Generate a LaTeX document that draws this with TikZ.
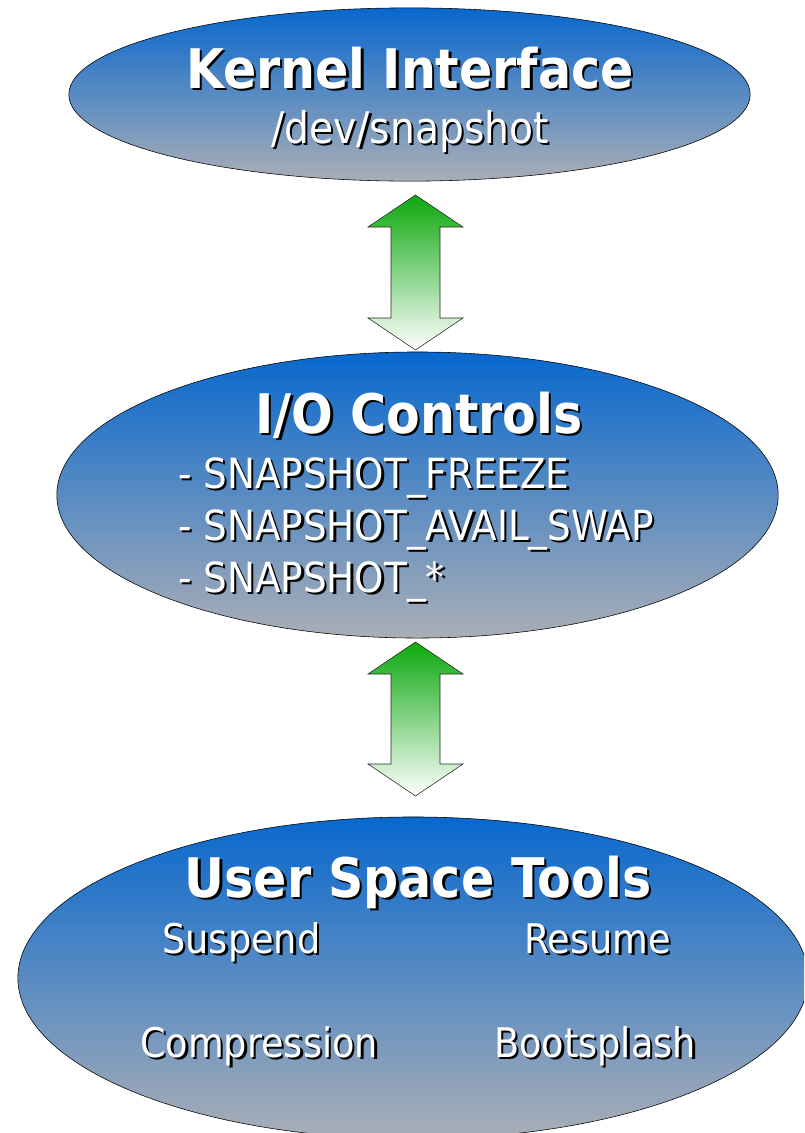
\documentclass[tikz,border=0pt]{standalone}
\usepackage{fontspec}
\setmainfont{DejaVu Sans Condensed}
\usetikzlibrary{calc}
\usetikzlibrary{shapes.geometric}
\definecolor{blobtop}{RGB}{8,104,206}
\definecolor{blobbottom}{RGB}{170,174,182}
\definecolor{arrowgreen}{RGB}{12,168,12}
\newcommand{\shadowed}[1]{\rlap{\kern1.7pt\raisebox{-1.7pt}{\color{black}#1}}#1}
\newcommand{\blockarrow}[2]{%
    \draw[bigarrow] (#1) -- ++(47.5,32) -- ++(-23,0) -- ($(#2)+(24.5,-32)$) -- ++(23,0)
        -- (#2) -- ++(-47.5,-32) -- ++(23,0) -- ($(#1)+(-24.5,32)$) -- ++(-23,0) -- cycle;}

\begin{document}
\begin{tikzpicture}[x=0.025cm, y=-0.025cm,
    blob/.style={ellipse, draw=black, thin, top color=blobtop, bottom color=blobbottom, inner sep=0pt},
    bigarrow/.style={draw=black!85, thin, top color=arrowgreen, bottom color=white},
    title/.style={white, font=\bfseries\fontsize{38.8}{40}\selectfont, anchor=base, inner sep=0pt},
    subtext/.style={white, font=\fontsize{29.5}{30}\selectfont, anchor=base, inner sep=0pt}]

    \useasboundingbox (0,0) rectangle (804,1133);
    \clip (0,0) rectangle (804,1133);

    % the three layers
    \node[blob, minimum width=17.03cm, minimum height=4.33cm] (kernel) at (409.5,94.5) {};
    \node[blob, minimum width=18.03cm, minimum height=7.15cm] (ioctl) at (417.5,495) {};
    \node[blob, minimum width=19.75cm, minimum height=8.05cm] (tools) at (413,978) {};

    % arrows in between
    \coordinate (up1) at (415.5,195);
    \coordinate (down1) at (415.5,350);
    \coordinate (up2) at (415.5,642);
    \coordinate (down2) at (415.5,796);
    \blockarrow{up1}{down1}
    \blockarrow{up2}{down2}

    \node[title] (kerneltitle) at (410,88) {\shadowed{Kernel Interface}};
    \node[subtext, font=\fontsize{31}{32}\selectfont] (devnode) at (410,143) {\shadowed{/dev/snapshot}};

    \node[title] (ioctltitle) at (419,433) {\shadowed{I/O Controls}};
    \node[subtext, anchor=base west] (freeze) at (178,488) {\shadowed{- SNAPSHOT\_FREEZE}};
    \node[subtext, anchor=base west] (availswap) at (178,540) {\shadowed{- SNAPSHOT\_AVAIL\_SWAP}};
    \node[subtext, anchor=base west] (others) at (178,592) {\shadowed{- SNAPSHOT\_*}};

    \node[title] (toolstitle) at (418,897) {\shadowed{User Space Tools}};
    \node[subtext, font=\fontsize{29}{30}\selectfont] (suspend) at (241.5,953) {\shadowed{Suspend}};
    \node[subtext, font=\fontsize{29}{30}\selectfont] (resume) at (597.5,953) {\shadowed{Resume}};
    \node[subtext, font=\fontsize{29}{30}\selectfont] (compression) at (259,1057) {\shadowed{Compression}};
    \node[subtext, font=\fontsize{29}{30}\selectfont] (bootsplash) at (595,1057) {\shadowed{Bootsplash}};

\end{tikzpicture}
\end{document}
